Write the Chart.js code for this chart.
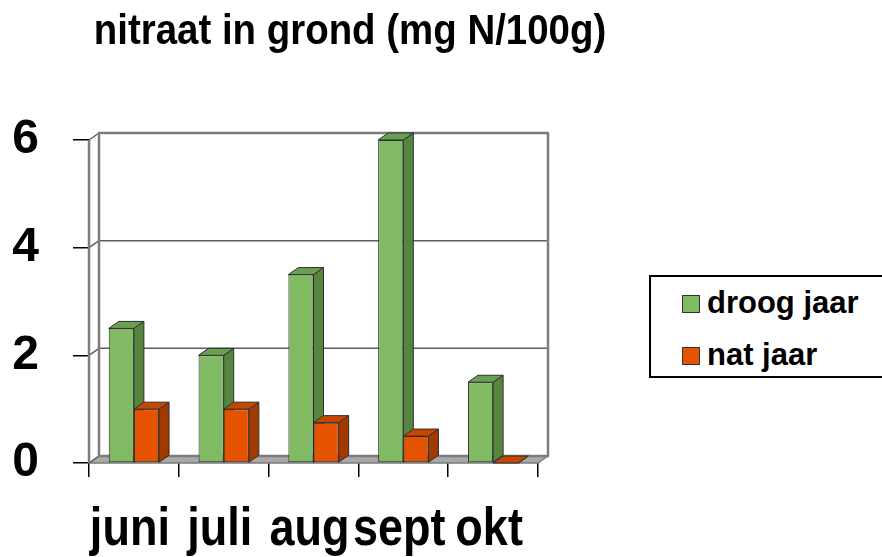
<!DOCTYPE html>
<html>
<head>
<meta charset="utf-8">
<script src="https://cdn.jsdelivr.net/npm/chart.js@4.4.0/dist/chart.umd.min.js"></script>
<style>
  html, body { margin: 0; padding: 0; background: #fff; }
  #wrap { position: relative; width: 882px; height: 557px; overflow: hidden; }
  #title {
    position: absolute; left: 0; top: 9px; width: 700px; text-align: center;
    font: bold 42px "Liberation Sans", Arial, sans-serif; line-height: 42px; color: #000;
    transform: scaleX(0.915); transform-origin: 350px 0;
    white-space: nowrap;
  }
  #legend {
    position: absolute; left: 649px; top: 275px; width: 260px; height: 103px;
    border: 2px solid #000; box-sizing: border-box; background: #fff;
  }
  .item {
    position: absolute; left: 31px; white-space: nowrap;
    font: bold 31px "Liberation Sans", Arial, sans-serif;
    line-height: 31px; color: #000;
  }
  .swatch {
    display: inline-block; width: 16px; height: 16px; margin-right: 7px;
    border: 1.5px solid #333; vertical-align: baseline;
  }
  canvas { position: absolute; left: 0; top: 0; }
</style>
</head>
<body>
<div id="wrap">
  <canvas id="chart" width="882" height="557"></canvas>
  <div id="title">nitraat in grond (mg N/100g)</div>
  <div id="legend"></div>
</div>
<script>
// ---------- data ----------
const categories = ["juni", "juli", "aug", "sept", "okt"];
const droogJaar = [2.5, 2.0, 3.5, 6.0, 1.5];
const natJaar = [1.0, 1.0, 0.75, 0.5, 0.0];
const seriesLabels = ["droog jaar", "nat jaar"];
const yTicks = [0, 2, 4, 6];

// colours: front, side, top
const greens = ["#80ba63", "#55853f", "#6b9f50"];
const oranges = ["#e65300", "#a23a00", "#c84700"];

const DX = 10, DY = -7; // depth of the fake 3d

// ---------- 3d walls + bar sides ----------
const depth3d = {
  id: "depth3d",
  beforeDatasetsDraw(chart) {
    const {ctx, chartArea: a, scales} = chart;
    const ys = scales.y;
    ctx.save();
    ctx.lineJoin = "round";

    // floor
    ctx.beginPath();
    ctx.moveTo(a.left, a.bottom);
    ctx.lineTo(a.right, a.bottom);
    ctx.lineTo(a.right + DX, a.bottom + DY);
    ctx.lineTo(a.left + DX, a.bottom + DY);
    ctx.closePath();
    ctx.fillStyle = "#a9a9a9";
    ctx.fill();
    ctx.strokeStyle = "#7a7a7a";
    ctx.lineWidth = 1.5;
    ctx.stroke();

    // grid on back wall + slants on side wall
    ctx.strokeStyle = "#5e5e5e";
    ctx.lineWidth = 1.5;
    yTicks.forEach((v) => {
      const y = ys.getPixelForValue(v);
      ctx.beginPath();
      ctx.moveTo(a.left, y);
      ctx.lineTo(a.left + DX, y + DY);
      if (v > 0) ctx.lineTo(a.right + DX, y + DY);
      ctx.stroke();
    });

    // back wall frame and side wall front edge
    ctx.strokeStyle = "#7d7d7d";
    ctx.lineWidth = 2.5;
    ctx.strokeRect(a.left + DX, a.top + DY, a.right - a.left, a.bottom - a.top);
    ctx.beginPath();
    ctx.moveTo(a.left, a.bottom);
    ctx.lineTo(a.left, a.top);
    ctx.stroke();

    // side and top faces of the bars
    ctx.lineWidth = 1;
    ctx.strokeStyle = "#2e2e2e";
    chart.data.datasets.forEach((ds, i) => {
      const meta = chart.getDatasetMeta(i);
      meta.data.forEach((bar) => {
        const l = bar.x - bar.width / 2, r = bar.x + bar.width / 2;
        const t = Math.min(bar.y, bar.base), b = Math.max(bar.y, bar.base);
        ctx.beginPath();
        ctx.moveTo(r, t); ctx.lineTo(r + DX, t + DY);
        ctx.lineTo(r + DX, b + DY); ctx.lineTo(r, b);
        ctx.closePath();
        ctx.fillStyle = ds.sideColor; ctx.fill(); ctx.stroke();
        ctx.beginPath();
        ctx.moveTo(l, t); ctx.lineTo(l + DX, t + DY);
        ctx.lineTo(r + DX, t + DY); ctx.lineTo(r, t);
        ctx.closePath();
        ctx.fillStyle = ds.topColor; ctx.fill(); ctx.stroke();
      });
    });
    ctx.restore();
  },
  // condensed category labels under the x axis
  afterDraw(chart) {
    const {ctx, scales} = chart;
    const xs = scales.x;
    ctx.save();
    ctx.font = `bold 53px "Liberation Sans", Arial, sans-serif`;
    ctx.fillStyle = "#000";
    ctx.textAlign = "center";
    ctx.textBaseline = "alphabetic";
    categories.forEach((c, i) => {
      ctx.save();
      ctx.translate(xs.getPixelForTick(i) - 4, 545);
      ctx.scale(0.85, 1);
      ctx.fillText(c, 0, 0);
      ctx.restore();
    });
    ctx.restore();
  },
};

const chart = new Chart(document.getElementById("chart"), {
  type: "bar",
  data: {
    labels: categories,
    datasets: [
      {label: seriesLabels[0], data: droogJaar, backgroundColor: greens[0], sideColor: greens[1], topColor: greens[2]},
      {label: seriesLabels[1], data: natJaar, backgroundColor: oranges[0], sideColor: oranges[1], topColor: oranges[2]},
    ].map((d) => Object.assign(d, {
      borderColor: "#2e2e2e", borderWidth: 1, borderSkipped: false,
      categoryPercentage: 0.56, barPercentage: 1.0,
    })),
  },
  options: {
    responsive: false,
    animation: false,
    devicePixelRatio: 1,
    layout: {padding: {top: 140, right: 344, left: 0, bottom: 0}},
    plugins: {legend: {display: false}, tooltip: {enabled: false}},
    scales: {
      x: {
        grid: {offset: true, drawOnChartArea: false, tickLength: 14, color: "#000", lineWidth: 1.5},
        border: {display: false},
        ticks: {display: false},
        afterFit: (s) => { s.height = 94; },
      },
      y: {
        min: 0, max: 6,
        afterBuildTicks: (s) => { s.ticks = yTicks.map((v) => ({value: v})); },
        grid: {drawOnChartArea: false, tickLength: 16, color: "#000", lineWidth: 1.5},
        border: {display: false},
        ticks: {color: "#000", padding: 34,
                font: {family: `"Liberation Sans", Arial, sans-serif`, size: 48, weight: "bold"}},
        afterFit: (s) => { s.width = 89; },
      },
    },
  },
  plugins: [depth3d],
});

// ---------- legend ----------
const legend = document.getElementById("legend");
[greens[0], oranges[0]].forEach((c, i) => {
  const el = document.createElement("div");
  el.className = "item";
  el.style.top = (i === 0 ? 10 : 62) + "px";
  el.innerHTML = `<span class="swatch" style="background:${c}"></span>${seriesLabels[i]}`;
  legend.appendChild(el);
});
</script>
</body>
</html>
